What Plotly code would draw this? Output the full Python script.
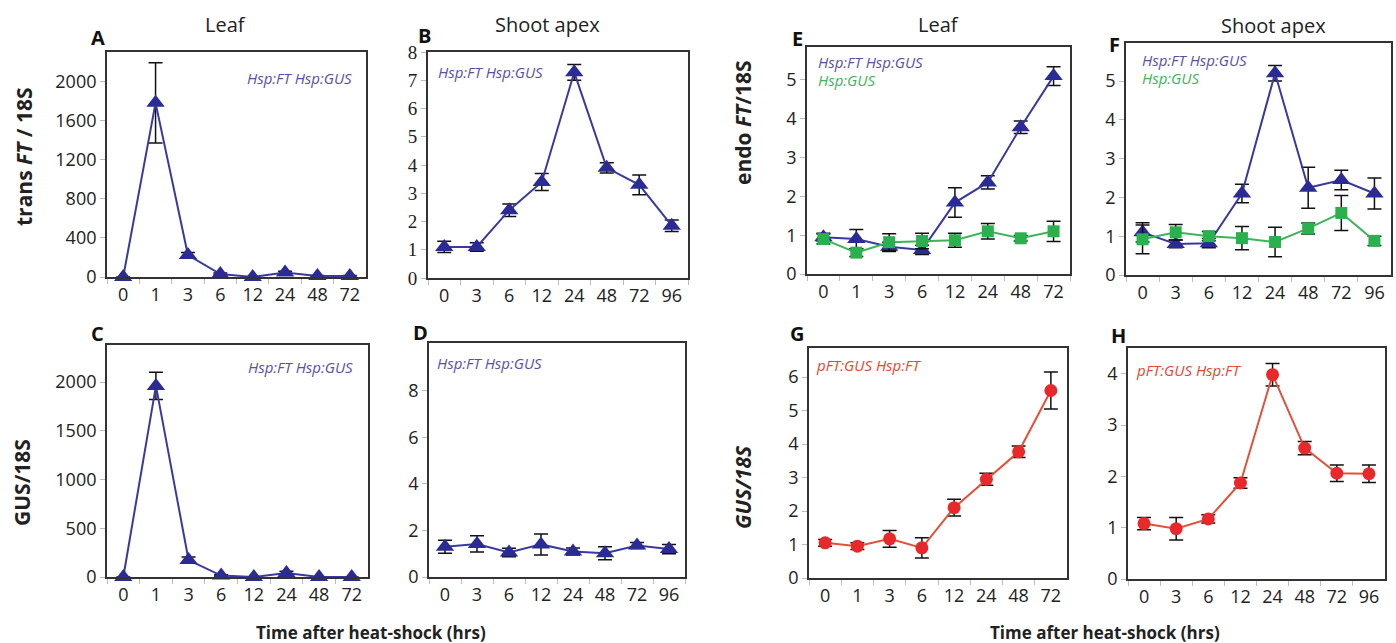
import plotly.graph_objects as go

W, H = 1396, 643
FONT = "Open Sans"

# ---------------- data ----------------
t_leaf = ["0", "1", "3", "6", "12", "24", "48", "72"]
t_apex = ["0", "3", "6", "12", "24", "48", "72", "96"]

# A: trans FT / 18S, leaf
a_val = [0, 1780, 225, 30, 0, 45, 10, 10]
a_err = [0, 410, 25, 10, 0, 15, 5, 5]
# B: trans FT / 18S, shoot apex
b_val = [1.1, 1.1, 2.4, 3.4, 7.28, 3.9, 3.3, 1.85]
b_err = [0.2, 0.15, 0.22, 0.3, 0.28, 0.18, 0.35, 0.2]
# C: GUS/18S, leaf
c_val = [0, 1960, 174, 15, 0, 40, 0, 0]
c_err = [0, 140, 30, 8, 0, 20, 0, 0]
# D: GUS/18S, shoot apex
d_val = [1.3, 1.42, 1.05, 1.4, 1.1, 1.02, 1.35, 1.2]
d_err = [0.28, 0.35, 0.18, 0.45, 0.15, 0.28, 0.13, 0.2]
# E: endo FT/18S, leaf
e_blue_val = [0.95, 0.9, 0.7, 0.62, 1.84, 2.36, 3.78, 5.1]
e_blue_err = [0.1, 0.25, 0.12, 0.12, 0.38, 0.17, 0.16, 0.24]
e_green_val = [0.9, 0.55, 0.82, 0.85, 0.87, 1.1, 0.92, 1.1]
e_green_err = [0.13, 0.1, 0.22, 0.2, 0.18, 0.2, 0.07, 0.26]
# F: endo FT/18S, shoot apex
f_blue_val = [1.1, 0.8, 0.82, 2.1, 5.2, 2.25, 2.45, 2.1]
f_blue_err = [0.25, 0.1, 0.12, 0.24, 0.2, 0.53, 0.25, 0.4]
f_green_val = [0.92, 1.1, 1.0, 0.95, 0.85, 1.2, 1.6, 0.88]
f_green_err = [0.37, 0.2, 0.12, 0.3, 0.38, 0.14, 0.45, 0.12]
# G: GUS/18S, leaf (pFT:GUS)
g_val = [1.05, 0.95, 1.17, 0.9, 2.1, 2.95, 3.77, 5.6]
g_err = [0.1, 0.1, 0.25, 0.3, 0.25, 0.18, 0.17, 0.55]
# H: GUS/18S, shoot apex (pFT:GUS)
h_val = [1.08, 0.98, 1.17, 1.87, 3.98, 2.55, 2.06, 2.05]
h_err = [0.12, 0.22, 0.08, 0.1, 0.22, 0.13, 0.16, 0.17]

# ---------------- style ----------------
BLUE_L, BLUE_M = "#3a3a9e", "#2b2b95"
GREEN_L, GREEN_M = "#3cb55a", "#2bb04e"
RED_L, RED_M = "#e2503a", "#e8282a"
LBL_BLUE, LBL_GREEN, LBL_RED = "#5a4fa8", "#3db35a", "#e8452e"

# panel boxes in pixels: (x0, x1, y0top, y1bottom), y range, y ticks
panels = [
    ("A", (107, 366, 52, 277), [0, 2300], [0, 400, 800, 1200, 1600, 2000], t_leaf, FONT),
    ("B", (428, 688, 52, 278), [0, 8], list(range(0, 9)), t_apex, "Liberation Serif"),
    ("E", (807, 1070, 47, 274), [0, 5.85], list(range(0, 6)), t_leaf, FONT),
    ("F", (1126, 1391, 43, 275), [0, 5.98], list(range(0, 6)), t_apex, FONT),
    ("C", (107, 368, 345, 577), [0, 2380], [0, 500, 1000, 1500, 2000], t_leaf, FONT),
    ("D", (429, 685, 343, 577), [0, 10.05], [0, 2, 4, 6, 8], t_apex, FONT),
    ("G", (809, 1067, 348, 578), [0, 6.87], list(range(0, 7)), t_leaf, FONT),
    ("H", (1128, 1385, 348, 579), [0, 4.5], list(range(0, 5)), t_apex, FONT),
]

fig = go.Figure()
layout = {}
axmap = {}
for i, (name, (x0, x1, y0, y1), yr, ytv, cats, yfont) in enumerate(panels):
    n = "" if i == 0 else str(i + 1)
    axmap[name] = ("x" + n, "y" + n)
    layout["xaxis" + n] = dict(
        domain=[x0 / W, x1 / W], anchor="y" + n, type="category",
        categoryorder="array", categoryarray=cats, range=[-0.5, 7.5],
        showline=True, mirror=True, linecolor="#333", linewidth=1.8,
        ticks="outside", tickson="boundaries", ticklen=5, tickcolor="#bbb",
        tickfont=dict(family=FONT, size=18, color="#222"),
        showgrid=False, zeroline=False, fixedrange=True, automargin=False,
    )
    layout["yaxis" + n] = dict(
        domain=[1 - y1 / H, 1 - y0 / H], anchor="x" + n, range=yr,
        tickvals=ytv, showline=True, mirror=True, linecolor="#333", linewidth=1.8,
        ticks="outside", ticklen=5, tickcolor="#bbb",
        tickfont=dict(family=yfont, size=19 if yfont != FONT else 18, color="#222"),
        showgrid=False, zeroline=False, fixedrange=True, automargin=False,
    )


def add(name, cats, vals, errs, lc, mc, symbol, size):
    xa, ya = axmap[name]
    fig.add_trace(go.Scatter(
        x=cats, y=vals, xaxis=xa, yaxis=ya, mode="lines+markers",
        line=dict(color=lc, width=2),
        marker=dict(color=mc, symbol=symbol, size=size),
        error_y=dict(type="data", array=errs, visible=True, color="#111", thickness=1.5, width=7),
        cliponaxis=False, showlegend=False, hoverinfo="skip",
    ))


add("A", t_leaf, a_val, a_err, BLUE_L, BLUE_M, "triangle-up", 16)
add("B", t_apex, b_val, b_err, BLUE_L, BLUE_M, "triangle-up", 16)
add("C", t_leaf, c_val, c_err, BLUE_L, BLUE_M, "triangle-up", 16)
add("D", t_apex, d_val, d_err, BLUE_L, BLUE_M, "triangle-up", 16)
add("E", t_leaf, e_blue_val, e_blue_err, BLUE_L, BLUE_M, "triangle-up", 16)
add("E", t_leaf, e_green_val, e_green_err, GREEN_L, GREEN_M, "square", 12)
add("F", t_apex, f_blue_val, f_blue_err, BLUE_L, BLUE_M, "triangle-up", 16)
add("F", t_apex, f_green_val, f_green_err, GREEN_L, GREEN_M, "square", 12)
add("G", t_leaf, g_val, g_err, RED_L, RED_M, "circle", 13)
add("H", t_apex, h_val, h_err, RED_L, RED_M, "circle", 13)

anns = []


def ann(text, x, y, size, color="#222", xanchor="center", angle=0, family=FONT):
    anns.append(dict(
        text=text, x=x / W, y=1 - y / H, xref="paper", yref="paper",
        xanchor=xanchor, yanchor="middle", showarrow=False, textangle=angle,
        font=dict(family=family, size=size, color=color),
    ))


# column titles
ann("Leaf", 225, 24, 20)
ann("Shoot apex", 547, 24, 20)
ann("Leaf", 938, 24, 20)
ann("Shoot apex", 1273, 25, 20)

# panel letters
for L, x, y in [("A", 98, 37), ("B", 424, 35), ("E", 797, 39), ("F", 1114, 44),
                ("C", 97, 333), ("D", 420, 332), ("G", 797, 333), ("H", 1118, 335)]:
    ann("<b>%s</b>" % L, x, y, 20, color="#111")

# y axis titles
ann("<b>trans <i>FT</i> / 18S</b>", 24, 157, 21, angle=-90)
ann("<b>GUS/18S</b>", 22, 483, 21, angle=-90)
ann("<b>endo <i>FT</i>/18S</b>", 743, 123, 21, angle=-90)
ann("<b><i>GUS/18S</i></b>", 743, 487, 21, angle=-90)

# x axis titles
ann("<b>Time after heat-shock (hrs)</b>", 371, 632, 17)
ann("<b>Time after heat-shock (hrs)</b>", 1105, 632, 17)

# inline genotype labels
ann("<i>Hsp:FT Hsp:GUS</i>", 354, 78, 15, LBL_BLUE, "right")
ann("<i>Hsp:FT Hsp:GUS</i>", 436, 72, 15, LBL_BLUE, "left")
ann("<i>Hsp:FT Hsp:GUS</i>", 355, 367, 15, LBL_BLUE, "right")
ann("<i>Hsp:FT Hsp:GUS</i>", 435, 363, 15, LBL_BLUE, "left")
ann("<i>Hsp:FT Hsp:GUS</i>", 816, 62, 15, LBL_BLUE, "left")
ann("<i>Hsp:GUS</i>", 816, 80, 15, LBL_GREEN, "left")
ann("<i>Hsp:FT Hsp:GUS</i>", 1140, 60, 15, LBL_BLUE, "left")
ann("<i>Hsp:GUS</i>", 1140, 78, 15, LBL_GREEN, "left")
ann("<i>pFT:GUS Hsp:FT</i>", 814, 365, 15, LBL_RED, "left")
ann("<i>pFT:GUS Hsp:FT</i>", 1134, 370, 15, LBL_RED, "left")

layout.update(
    width=W, height=H, margin=dict(l=0, r=0, t=0, b=0, pad=0, autoexpand=False),
    paper_bgcolor="white", plot_bgcolor="white", annotations=anns,
    showlegend=False, font=dict(family=FONT),
)
fig.update_layout(**layout)
fig.write_html(
    "out.html",
    config={"displayModeBar": False},
    post_script="document.body.style.margin='0';document.body.style.overflow='hidden';",
)
